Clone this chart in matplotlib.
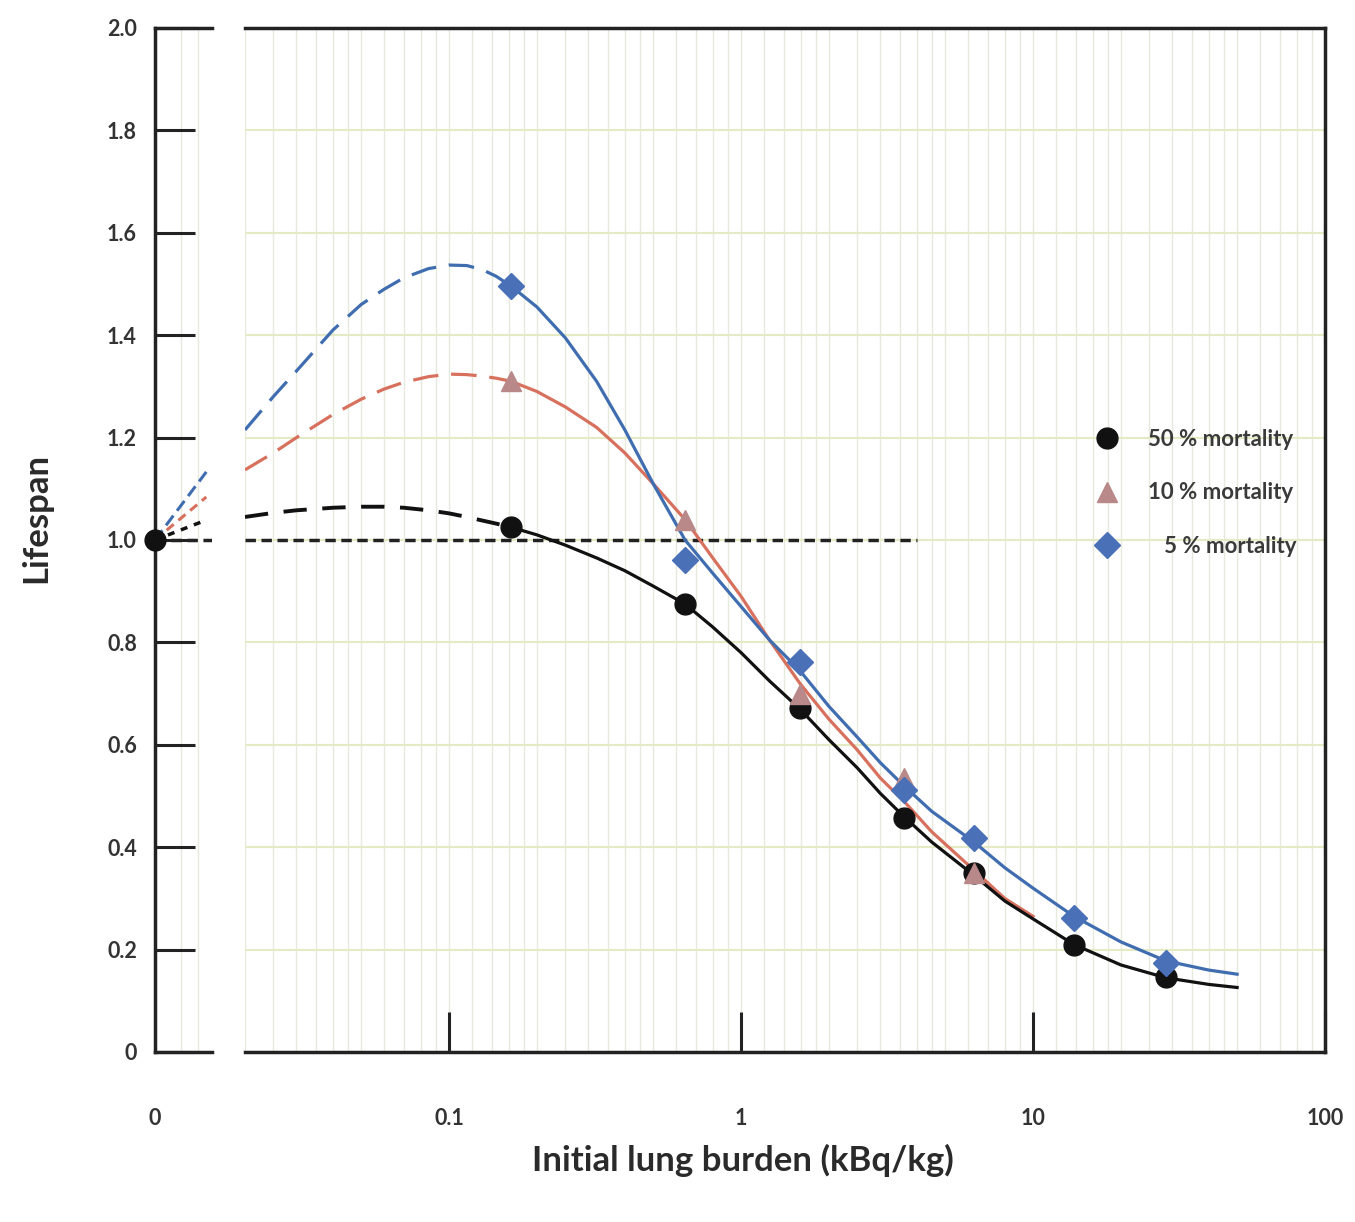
import numpy as np
import matplotlib
matplotlib.use('Agg')
import matplotlib.pyplot as plt
from matplotlib.ticker import FixedLocator, LogLocator, NullFormatter

plt.rcParams['font.family'] = ['Lato', 'DejaVu Sans']

# measured points (kBq/kg, relative lifespan)
dose = [0.163, 0.643, 1.59, 3.61, 6.28, 13.8, 28.5]
life_50 = [1.025, 0.875, 0.672, 0.457, 0.35, 0.209, 0.146]
dose_10 = [0.163, 0.643, 1.59, 3.61, 6.28]
life_10 = [1.31, 1.04, 0.70, 0.535, 0.35]
life_5 = [1.496, 0.961, 0.762, 0.512, 0.418, 0.262, 0.174]

# fitted curves
fit_x = [0.163, 0.2, 0.25, 0.32, 0.4, 0.5, 0.643, 0.8, 1.0, 1.25, 1.59, 2.0, 2.5, 3.0, 3.61,
         4.5, 6.28, 8.0, 10, 13.8, 20, 28.5, 40, 50]
fit_50 = [1.025, 1.01, 0.99, 0.965, 0.94, 0.91, 0.875, 0.83, 0.78, 0.725, 0.67, 0.61, 0.555, 0.505, 0.46,
          0.41, 0.345, 0.295, 0.26, 0.21, 0.17, 0.145, 0.132, 0.126]
fit_10 = [1.31, 1.29, 1.26, 1.22, 1.17, 1.11, 1.04, 0.965, 0.89, 0.805, 0.72, 0.65, 0.59, 0.535, 0.49,
          0.43, 0.355, 0.30, 0.265]
fit_5 = [1.496, 1.455, 1.395, 1.31, 1.215, 1.11, 1.0, 0.935, 0.87, 0.805, 0.745, 0.675, 0.615, 0.565, 0.52,
         0.47, 0.41, 0.36, 0.32, 0.265, 0.215, 0.178, 0.16, 0.152]

# dashed extrapolation towards low dose
dash_x = [0.02, 0.025, 0.03, 0.04, 0.05, 0.06, 0.07, 0.085, 0.1, 0.115, 0.13, 0.145, 0.163]
dash_50 = [1.045, 1.053, 1.058, 1.063, 1.065, 1.065, 1.063, 1.058, 1.052, 1.045, 1.038, 1.032, 1.025]
dash_10 = [1.137, 1.17, 1.20, 1.245, 1.275, 1.295, 1.308, 1.319, 1.324, 1.323, 1.32, 1.316, 1.31]
dash_5 = [1.215, 1.28, 1.33, 1.41, 1.46, 1.49, 1.512, 1.53, 1.537, 1.536, 1.528, 1.515, 1.496]

# zero-dose segment (left broken part of the axis)
zero_x = [0, 0.9]
zero_50 = [1.0, 1.039]
zero_10 = [1.0, 1.084]
zero_5 = [1.0, 1.133]

ref_x = [0.02, 4.0]
ref_y = [1.0, 1.0]

yticks = [0, 0.2, 0.4, 0.6, 0.8, 1.0, 1.2, 1.4, 1.6, 1.8, 2.0]
ytick_labels = ['0', '0.2', '0.4', '0.6', '0.8', '1.0', '1.2', '1.4', '1.6', '1.8', '2.0']
xticks = [0.1, 1, 10, 100]
xtick_labels = ['0.1', '1', '10', '100']
labels = ['50 % mortality', '10 % mortality', '   5 % mortality']

BLACK = '#111111'
RED = '#d8705e'
TRI = '#b98888'
BLUE = '#3f6db0'
DIA = '#4a70b8'
TXT = '#333333'
GRID_H = '#e4ebc4'
GRID_V = '#e6eadc'

fig = plt.figure(figsize=(13.55, 12.22), dpi=100)
W, H = 1355, 1222
y0 = (H - 1052) / H
hgt = 1024 / H
ax0 = fig.add_axes([155 / W, y0, 57 / W, hgt])
ax = fig.add_axes([245 / W, y0, 1080 / W, hgt])

# ---- left (zero dose) part
ax0.set_xlim(0, 1)
ax0.set_ylim(0, 2.0)
ax0.spines['right'].set_visible(False)
for s in ['left', 'top', 'bottom']:
    ax0.spines[s].set_linewidth(2.5)
    ax0.spines[s].set_color('#222222')
ax0.set_yticks(yticks)
ax0.set_yticklabels(ytick_labels)
ax0.tick_params(axis='y', direction='in', length=29, width=2.2, pad=13,
                labelsize=15.5, labelcolor=TXT, color='#222222')
ax0.set_xticks([0])
ax0.set_xticklabels(['0'])
ax0.tick_params(axis='x', which='both', length=0, pad=40, labelsize=15.5, labelcolor=TXT)
for t in ax0.get_yticklabels() + ax0.get_xticklabels():
    t.set_fontweight('bold')
ax0.xaxis.set_minor_locator(FixedLocator([0.45, 0.75]))
ax0.grid(True, which='minor', axis='x', color=GRID_V, lw=1)
ax0.plot(zero_x, zero_5, color=BLUE, lw=2.2, ls=(0, (4, 2)))
ax0.plot(zero_x, zero_10, color=RED, lw=2.2, ls=(0, (3, 2)))
ax0.plot(zero_x, zero_50, color=BLACK, lw=2.5, ls=(0, (2, 2)))
ax0.plot([0, 1], [1.0, 1.0], color='#222222', lw=2.5, ls=(0, (3, 1.6)))
ax0.plot([0], [1.0], 'o', color=BLACK, ms=15, clip_on=False, zorder=5)

# ---- main log part
ax.set_xscale('log')
ax.set_xlim(0.02, 100)
ax.set_ylim(0, 2.0)
ax.spines['left'].set_visible(False)
for s in ['right', 'top', 'bottom']:
    ax.spines[s].set_linewidth(2.5)
    ax.spines[s].set_color('#222222')
ax.xaxis.set_major_locator(FixedLocator(xticks))
ax.set_xticklabels(xtick_labels)
ax.xaxis.set_minor_locator(LogLocator(base=10, subs=[1, 1.2, 1.4, 1.6, 1.8, 2, 2.5, 3, 3.5, 4,
                                                        4.5, 5, 6, 7, 8, 9]))
ax.xaxis.set_minor_formatter(NullFormatter())
ax.tick_params(axis='x', which='major', direction='in', length=29, width=2.2, pad=40,
               labelsize=15.5, labelcolor=TXT, color='#222222')
ax.tick_params(axis='x', which='minor', length=0)
for t in ax.get_xticklabels():
    t.set_fontweight('bold')
ax.set_yticks(yticks)
ax.tick_params(axis='y', length=0, labelleft=False)
ax.grid(True, which='minor', axis='x', color=GRID_V, lw=1)
ax.grid(True, which='major', axis='x', color=GRID_V, lw=1)
ax.grid(True, which='major', axis='y', color=GRID_H, lw=1.5)
ax.set_axisbelow(True)

# dashed extrapolations
ax.plot(dash_x, dash_5, color=BLUE, lw=2.3, ls=(0, (8, 4)))
ax.plot(dash_x, dash_10, color=RED, lw=2.3, ls=(0, (8, 4)))
ax.plot(dash_x, dash_50, color=BLACK, lw=2.8, ls=(0, (6, 4)))
ax.plot(ref_x, ref_y, color='#222222', lw=2.5, ls=(0, (3, 1.6)))

# fitted curves
ax.plot(fit_x[:len(fit_10)], fit_10, color=RED, lw=2.3, solid_joinstyle='round')
ax.plot(fit_x, fit_5, color=BLUE, lw=2.3, solid_joinstyle='round')
ax.plot(fit_x, fit_50, color=BLACK, lw=2.3, solid_joinstyle='round')

# points
h50, = ax.plot(dose, life_50, 'o', color=BLACK, ms=15, ls='none', zorder=4)
h10, = ax.plot(dose_10, life_10, '^', color=TRI, ms=15, ls='none', zorder=4)
h5, = ax.plot(dose, life_5, 'D', color=DIA, ms=13, ls='none', zorder=4)

leg = ax.legend([h50, h10, h5], labels, loc='upper left', bbox_to_anchor=(0.782, 0.617),
                frameon=False, handlelength=0.8, handletextpad=1.45, labelspacing=1.45,
                prop={'size': 16, 'weight': 'bold'}, borderaxespad=0)
for t in leg.get_texts():
    t.set_color('#3a3a3a')

fig.text(743 / W, 1 - 1160 / H, 'Initial lung burden (kBq/kg)', ha='center', va='center',
         fontsize=25, fontweight='bold', color='#2a2a2a')
fig.text(36 / W, 1 - 518 / H, 'Lifespan', ha='center', va='center', rotation=90,
         fontsize=25, fontweight='bold', color='#2a2a2a')

fig.savefig('out.png', dpi=100)
